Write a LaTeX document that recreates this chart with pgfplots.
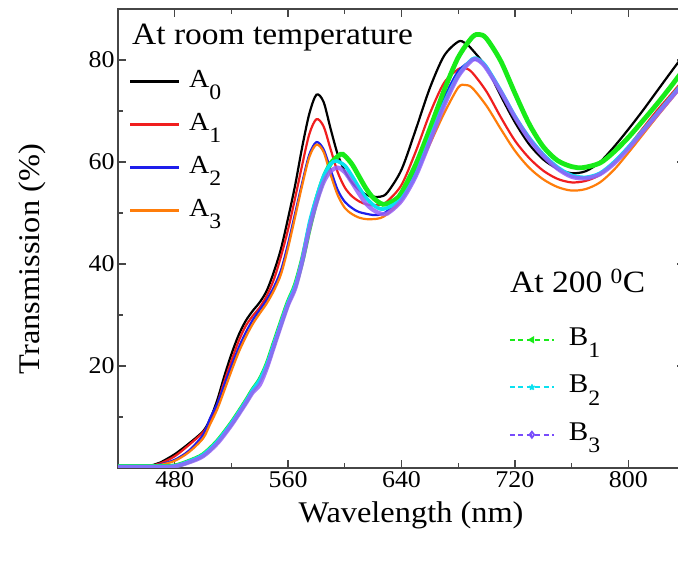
\documentclass[border=0pt]{standalone}
\usepackage{fontspec}
\setmainfont[FakeStretch=1.08]{Liberation Serif}
\usepackage{pgfplots}
\pgfplotsset{compat=1.18}

\definecolor{cRed}{RGB}{240,30,30}
\definecolor{cBlue}{RGB}{30,30,235}
\definecolor{cOrange}{RGB}{255,125,10}
\definecolor{cGreen}{RGB}{25,235,25}
\definecolor{cCyan}{RGB}{10,225,240}
\definecolor{cPurple}{RGB}{150,95,250}
\definecolor{cAxis}{RGB}{70,70,70}

% large, deep subscripts used in the legend entries
\newcommand{\lsub}[1]{\raisebox{-12.5bp}{\fontsize{22bp}{22bp}\selectfont #1}}

\pgfplotsset{
  specbase/.style={
    scale only axis, width=567bp, height=459bp,
    xmin=440, xmax=840, ymin=0, ymax=90,
    at={(0,0)}, anchor=south west,
  },
}

\begin{document}
\begin{tikzpicture}
% ---------- room-temperature spectra, with the full frame ----------
\begin{axis}[
  specbase,
  axis line style={cAxis, line width=1.6bp},
  tick align=inside,
  major tick length=8bp, minor tick length=5bp,
  every tick/.style={cAxis, line width=1.3bp},
  xtick={480,560,640,720,800}, minor xtick={520,600,680,760},
  ytick={20,40,60,80}, minor ytick={10,30,50,70},
  ticklabel style={font=\fontsize{24bp}{24bp}\selectfont},
  /pgf/number format/assume math mode=true,
  xlabel={Wavelength (nm)}, ylabel={Transmission (\%)},
  label style={font=\fontsize{30bp}{30bp}\selectfont},
  xlabel style={at={(axis description cs:0.5168,-0.1198)}, anchor=base},
  ylabel style={at={(axis description cs:-0.1384,0.4553)}, anchor=base},
  legend style={at={(axis description cs:0.0194,0.8736)}, anchor=north west,
    draw=none, fill=none, inner sep=0pt, outer sep=0pt, row sep=0pt,
    column sep=9bp, font=\fontsize{26bp}{26bp}\selectfont,
    nodes={inner sep=0pt, text height=20bp, text depth=23bp}},
  legend cell align=left,
  legend image post style={line width=2.2bp},
  legend image code/.code={\draw[#1, line width=2.2bp] (0bp,7bp) -- (49bp,7bp);},
]
\addplot[black, line width=2.2bp, smooth] coordinates {
(440,0.3)(455,0.3)(465,0.6)(470,1.1)(480,2.7)(490,4.8)(500,7.2)(505,9.6)(510,13.3)(515,18)(520,22.3)(525,26)(530,28.8)(535,30.8)(540,32.5)(545,34.8)(550,38.5)(555,43)(560,49)(565,55.5)(570,63)(575,69.5)(580,73.2)(585,71.8)(590,66.5)(595,61.5)(600,58.2)(605,56)(610,54.5)(615,53.6)(620,53.2)(625,53.2)(630,54)(640,58.5)(650,66.3)(660,74.5)(670,80.8)(680,83.6)(685,83.3)(690,82)(700,78.5)(710,73)(720,67.8)(730,63.5)(740,60.5)(750,58.7)(760,57.8)(770,58.2)(780,60)(790,63)(800,66.4)(810,70)(820,73.8)(830,77.6)(840,81.3)};
\addlegendentry{A\lsub{0}}
\addplot[cRed, line width=2.2bp, smooth] coordinates {
(440,0.3)(455,0.3)(465,0.5)(470,0.9)(480,2.3)(490,4.5)(500,7)(505,9.2)(510,12.5)(515,17)(520,21)(525,24.8)(530,27.8)(535,29.8)(540,31.5)(545,33.8)(550,37)(555,41.5)(560,46.8)(565,53)(570,59.5)(575,65.5)(580,68.4)(585,67)(590,62.5)(595,58)(600,55)(605,53.3)(610,52.3)(615,51.7)(620,51.5)(625,51.6)(630,52.3)(640,55.5)(650,62)(660,69.5)(670,75.5)(680,78.2)(685,78.4)(690,77.5)(700,73.8)(710,68.8)(720,64.2)(730,60.8)(740,58.3)(750,56.7)(760,56)(770,56.3)(780,57.5)(790,60)(800,63)(810,66.5)(820,70)(830,73.2)(840,76.5)};
\addlegendentry{A\lsub{1}}
\addplot[cBlue, line width=2.2bp, smooth] coordinates {
(440,0.3)(455,0.3)(465,0.4)(470,0.7)(480,1.6)(490,3.4)(500,6.5)(505,9.8)(510,12.6)(515,16.3)(520,20)(525,23.5)(530,26.5)(535,29)(540,31)(545,33)(550,35.5)(555,38.8)(560,44)(565,50)(570,56)(575,61.5)(580,63.9)(585,62.5)(590,58.5)(595,54.5)(600,52.2)(605,51)(610,50.2)(620,49.6)(625,49.7)(630,50.4)(640,53.2)(650,58.5)(660,65.5)(670,72.5)(680,77.8)(690,80)(695,79.8)(700,78.3)(710,73.8)(720,68.8)(730,64.5)(740,61.2)(750,58.7)(760,57.2)(770,56.9)(780,57.7)(790,59.8)(800,62.8)(810,66)(820,69.3)(830,72.6)(840,76)};
\addlegendentry{A\lsub{2}}
\addplot[cOrange, line width=2.2bp, smooth] coordinates {
(440,0.3)(455,0.3)(465,0.4)(470,0.6)(480,1.4)(490,3.1)(500,5.8)(505,8.6)(510,11.5)(515,15.2)(520,19)(525,22.6)(530,25.6)(535,28.2)(540,30.3)(545,32.3)(550,34.8)(555,38)(560,43.2)(565,49.3)(570,55.5)(575,61)(580,63.4)(585,62)(590,57.5)(595,53.5)(600,51)(605,49.8)(610,49.1)(615,48.8)(620,48.8)(625,49)(630,49.8)(640,52.5)(650,57.5)(660,63.5)(670,69.5)(680,74.6)(685,75.1)(690,74.5)(700,71)(710,66.5)(720,62.2)(730,58.9)(740,56.6)(750,55.1)(760,54.4)(770,54.7)(780,56)(790,58.5)(800,61.8)(810,65.3)(820,68.8)(830,72.2)(840,75.6)};
\addlegendentry{A\lsub{3}}
\node[anchor=base west, font=\fontsize{31bp}{31bp}\selectfont, inner sep=0pt]
  at (axis description cs:0.0247,0.9216) {At room temperature};
\end{axis}

% ---------- spectra after heating, sharing the same frame ----------
\begin{axis}[
  specbase, hide axis,
  legend style={at={(axis description cs:0.6896,0.3115)}, anchor=north west,
    draw=none, fill=none, inner sep=0pt, outer sep=0pt, row sep=0pt,
    column sep=14bp, font=\fontsize{27bp}{27bp}\selectfont,
    nodes={inner sep=0pt, text height=20bp, text depth=27.5bp}},
  legend cell align=left,
  legend image post style={line width=1.8bp},
  legend image code/.code={\draw[mark repeat=2, mark phase=2, #1, line width=1.8bp, dash pattern=on 5bp off 3.5bp]
    plot coordinates {(0bp,9bp) (22bp,9bp) (44bp,9bp)};},
]
\addplot[cGreen, line width=4.8bp, smooth, forget plot] coordinates {
(440,0.3)(470,0.3)(480,0.4)(490,1.3)(500,2.6)(510,5.2)(520,8.8)(530,13)(535,15.3)(540,17.3)(545,20.3)(550,24.4)(555,28.5)(560,32.5)(565,35.8)(570,40.8)(575,47)(580,52.5)(585,56.8)(590,59.7)(597,61.5)(600,61.2)(605,59.6)(610,57.2)(615,54.8)(620,53)(627,51.7)(635,52.5)(640,54)(650,59.5)(660,66.5)(670,74)(680,80.5)(690,84.5)(695,85)(700,84.2)(710,79.8)(720,73.5)(730,67.5)(740,63)(750,60.3)(760,59.1)(768,58.9)(780,59.8)(790,62)(800,64.8)(810,68)(820,71.3)(830,74.8)(840,78.5)};
\addplot[cCyan, line width=3.6bp, smooth, forget plot] coordinates {
(440,0.3)(470,0.3)(480,0.4)(490,1.3)(500,2.6)(510,5.2)(520,8.8)(530,13)(535,15.3)(540,17.3)(545,20.3)(550,24.4)(555,28.5)(560,32.5)(565,35.8)(570,41)(575,48)(580,53)(585,57.2)(590,59.6)(594,60.2)(600,59.3)(605,57.3)(610,55)(615,53)(620,51.6)(625,50.8)(630,51)(640,52.8)(650,57.5)(660,64.5)(670,71.5)(680,77)(690,80.2)(695,80)(700,78.6)(710,74)(720,69)(730,64.8)(740,61.5)(750,59)(760,57.4)(770,57)(780,57.8)(790,60)(800,62.9)(810,66.1)(820,69.4)(830,72.7)(840,76)};
\addplot[cPurple, line width=4.2bp, opacity=0.85, smooth, forget plot] coordinates {
(440,0.2)(470,0.2)(480,0.3)(490,1.1)(500,2.3)(510,4.8)(520,8.4)(530,12.6)(535,14.8)(540,16.3)(545,19.6)(550,23.8)(555,28)(560,32)(565,35.2)(570,40.5)(575,47)(580,52)(585,56)(590,58.2)(595,58.9)(600,58)(605,56)(610,53.8)(615,51.8)(620,50.6)(625,49.9)(630,49.9)(640,52.4)(650,57.2)(660,64)(670,71)(680,76.8)(690,80)(695,79.8)(700,78.3)(710,73.8)(720,68.8)(730,64.5)(740,61.2)(750,58.7)(760,57.1)(770,56.8)(780,57.6)(790,59.7)(800,62.6)(810,65.9)(820,69.2)(830,72.5)(840,75.8)};
\addlegendimage{cGreen, mark=triangle*, mark size=2.5bp, mark options={rotate=90, solid}}
\addlegendentry{B\lsub{1}}
\addlegendimage{cCyan, mark=star, mark size=3bp, mark options={solid}}
\addlegendentry{B\lsub{2}}
\addlegendimage{cPurple!80!blue, mark=diamond, mark size=3bp, mark options={solid, fill=white}}
\addlegendentry{B\lsub{3}}
\node[anchor=base west, font=\fontsize{31bp}{31bp}\selectfont, inner sep=0pt]
  at (axis description cs:0.6914,0.3813) {At 200 \textsuperscript{0}C};
\end{axis}
\pgfresetboundingbox
\path[use as bounding box] (-118bp,-98bp) rectangle (560bp,468bp);
\end{tikzpicture}
\end{document}
